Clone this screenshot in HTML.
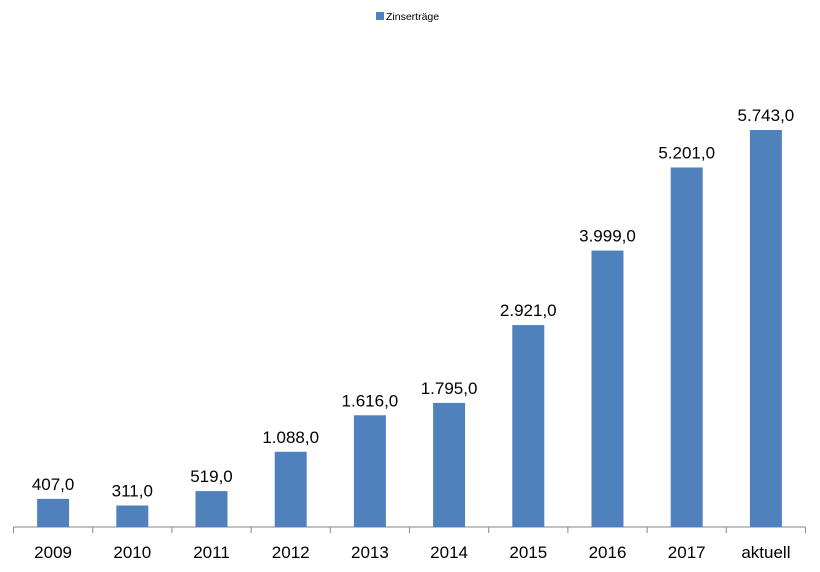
<!DOCTYPE html>
<html><head><meta charset="utf-8"><style>
body{margin:0;background:#fff;}
svg{display:block;font-family:"Liberation Sans",sans-serif;}
</style></head><body>
<svg id="chart" width="820" height="572">
<g>
<rect x="376" y="12" width="8" height="8" fill="#4f81bd"/>
<text x="386" y="20" font-size="10.5" fill="#000">Zinserträge</text>
</g>
<g id="axis"></g>
<g id="bars"></g>
</svg>
<script>
const categories=["2009","2010","2011","2012","2013","2014","2015","2016","2017","aktuell"];
const values=[407,311,519,1088,1616,1795,2921,3999,5201,5743];
const valueLabels=["407,0","311,0","519,0","1.088,0","1.616,0","1.795,0","2.921,0","3.999,0","5.201,0","5.743,0"];
const x0=13.5,step=79.2,base=527,scale=397/5743,bw=32;
const ns="http://www.w3.org/2000/svg";
const ax=document.getElementById('axis'),bg=document.getElementById('bars');
function xs(i){return x0+step*i;}
function ys(v){return base-v*scale;}
function mk(t,a,p){const e=document.createElementNS(ns,t);for(const k in a)e.setAttribute(k,a[k]);p.appendChild(e);return e;}
const line=mk('line',{x1:x0,x2:xs(categories.length),y1:base,y2:base,stroke:'#868686','stroke-width':1},ax);


for(let i=0;i<=categories.length;i++){
 const t=mk('line',{x1:xs(i),x2:xs(i),y1:base,y2:base+6,stroke:'#868686','stroke-width':1},ax);
 
 
}
categories.forEach((c,i)=>{
 const cx=xs(i)+step/2;
 const l=mk('text',{x:cx,y:558,'text-anchor':'middle','font-size':17,fill:'#000'},ax);
 l.textContent=c;
 
 
 const r=mk('rect',{x:cx-bw/2,y:ys(values[i]),width:bw,height:base-ys(values[i]),fill:'#4f81bd'},bg);
 
 
 const v=mk('text',{x:cx,y:ys(values[i])-9,'text-anchor':'middle','font-size':17,fill:'#000'},bg);
 v.textContent=valueLabels[i];
 
 
});
</script>
</body></html>
